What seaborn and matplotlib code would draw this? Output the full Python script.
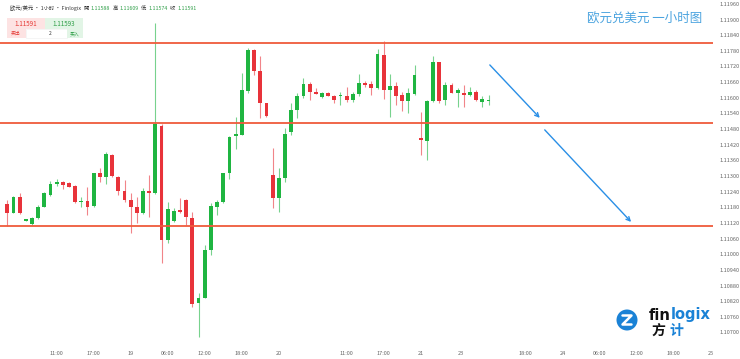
import numpy as np
import pandas as pd
import seaborn as sns
import matplotlib
matplotlib.use("Agg")
import matplotlib.pyplot as plt
import matplotlib.patches as mpatches

# ---------------- data ----------------
opens = [1.11193, 1.11160, 1.11221, 1.11128, 1.11116, 1.11138, 1.11183, 1.11227, 1.11268, 1.11277,
         1.11275, 1.11262, 1.11199, 1.11204, 1.11185, 1.11313, 1.11295, 1.11382, 1.11298, 1.11244,
         1.11208, 1.11180, 1.11157, 1.11244, 1.11234, 1.11492, 1.11055, 1.11128, 1.11170, 1.11208,
         1.11138, 1.10812, 1.10831, 1.11016, 1.11183, 1.11202, 1.11311, 1.11454, 1.11458, 1.11626,
         1.11784, 1.11703, 1.11579, 1.11304, 1.11215, 1.11292, 1.11468, 1.11554, 1.11607, 1.11653,
         1.11624, 1.11602, 1.11618, 1.11608, 1.11605, 1.11606, 1.11592, 1.11615, 1.11658, 1.11652,
         1.11639, 1.11764, 1.11628, 1.11646, 1.11610, 1.11589, 1.11615, 1.11445, 1.11436, 1.11589,
         1.11739, 1.11592, 1.11649, 1.11620, 1.11618, 1.11611, 1.11624, 1.11585, 1.11588]
highs = [1.11208, 1.11224, 1.11234, 1.11137, 1.11144, 1.11189, 1.11239, 1.11282, 1.11289, 1.11281,
         1.11277, 1.11266, 1.11221, 1.11259, 1.11312, 1.11330, 1.11394, 1.11385, 1.11300, 1.11285,
         1.11236, 1.11221, 1.11253, 1.11304, 1.11887, 1.11500, 1.11202, 1.11176, 1.11215, 1.11211,
         1.11163, 1.10850, 1.11036, 1.11196, 1.11208, 1.11311, 1.11454, 1.11528, 1.11694, 1.11791,
         1.11787, 1.11762, 1.11580, 1.11407, 1.11330, 1.11483, 1.11579, 1.11618, 1.11677, 1.11661,
         1.11639, 1.11621, 1.11624, 1.11611, 1.11621, 1.11641, 1.11624, 1.11690, 1.11665, 1.11665,
         1.11786, 1.11819, 1.11692, 1.11662, 1.11624, 1.11637, 1.11726, 1.11547, 1.11592, 1.11761,
         1.11739, 1.11662, 1.11658, 1.11637, 1.11649, 1.11643, 1.11628, 1.11605, 1.11609]
lows = [1.11108, 1.11158, 1.11155, 1.11127, 1.11112, 1.11135, 1.11181, 1.11224, 1.11262, 1.11250,
        1.11258, 1.11197, 1.11180, 1.11151, 1.11181, 1.11278, 1.11270, 1.11296, 1.11227, 1.11202,
        1.11080, 1.11119, 1.11155, 1.11144, 1.11231, 1.10965, 1.11044, 1.11125, 1.11157, 1.11112,
        1.10797, 1.10684, 1.10831, 1.10997, 1.11151, 1.11198, 1.11288, 1.11403, 1.11458, 1.11619,
        1.11688, 1.11522, 1.11527, 1.11176, 1.11163, 1.11278, 1.11458, 1.11524, 1.11598, 1.11592,
        1.11614, 1.11598, 1.11605, 1.11581, 1.11573, 1.11585, 1.11585, 1.11608, 1.11643, 1.11611,
        1.11633, 1.11595, 1.11526, 1.11573, 1.11551, 1.11541, 1.11611, 1.11381, 1.11362, 1.11585,
        1.11581, 1.11573, 1.11618, 1.11564, 1.11564, 1.11605, 1.11589, 1.11564, 1.11574]
closes = [1.11160, 1.11221, 1.11157, 1.11136, 1.11138, 1.11180, 1.11234, 1.11270, 1.11278, 1.11265,
          1.11259, 1.11199, 1.11204, 1.11183, 1.11311, 1.11295, 1.11385, 1.11300, 1.11244, 1.11208,
          1.11180, 1.11157, 1.11244, 1.11236, 1.11499, 1.11055, 1.11175, 1.11167, 1.11163, 1.11142,
          1.10809, 1.10831, 1.11016, 1.11185, 1.11202, 1.11311, 1.11451, 1.11460, 1.11628, 1.11784,
          1.11703, 1.11579, 1.11532, 1.11215, 1.11292, 1.11461, 1.11554, 1.11607, 1.11653, 1.11621,
          1.11616, 1.11618, 1.11608, 1.11592, 1.11609, 1.11592, 1.11615, 1.11656, 1.11649, 1.11639,
          1.11767, 1.11630, 1.11646, 1.11607, 1.11589, 1.11618, 1.11688, 1.11438, 1.11589, 1.11739,
          1.11589, 1.11649, 1.11620, 1.11628, 1.11611, 1.11624, 1.11592, 1.11594, 1.11591]

levels = [1.11809, 1.11503, 1.11110]

x_tick_pos = [8, 14, 20, 26, 32, 38, 44, 55, 61, 67, 73.5, 84, 90, 96, 102, 108, 114]
x_tick_labels = ["11:00", "17:00", "19", "06:00", "12:00", "18:00", "20", "11:00", "17:00",
                 "21", "23", "18:00", "24", "06:00", "12:00", "18:00", "25"]
y_ticks = [1.10700, 1.10760, 1.10820, 1.10880, 1.10940, 1.11000, 1.11060, 1.11120, 1.11180,
           1.11240, 1.11300, 1.11360, 1.11420, 1.11480, 1.11540, 1.11600, 1.11660, 1.11720,
           1.11780, 1.11840, 1.11900, 1.11960]

arrow_starts = [(78.2, 1.11726), (87.1, 1.11477)]
arrow_ends = [(86.3, 1.11523), (101.1, 1.11124)]

header_parts = [("欧元/美元 • 1小时 • Finlogix", "#333333"),
                ("開", "#333333"), ("1.11588", "#2e9e47"),
                ("高", "#333333"), ("1.11609", "#2e9e47"),
                ("低", "#333333"), ("1.11574", "#2e9e47"),
                ("收", "#333333"), ("1.11591", "#2e9e47")]
sell_price = "1.11591"
buy_price = "1.11593"
title = "欧元兑美元 一小时图"

# ---------------- style ----------------
sns.set_theme(style="white")
plt.rcParams['font.family'] = ['Noto Sans CJK SC', 'DejaVu Sans']

W, H = 740, 359
fig = plt.figure(figsize=(W / 100, H / 100), dpi=100)
ax = fig.add_axes([0, 14 / H, 713 / W, 345 / H])

df = pd.DataFrame({"o": opens, "h": highs, "l": lows, "c": closes})
df["i"] = np.arange(len(df))
GREEN = "#1fb541"
RED = "#e8333a"
df["col"] = np.where(df["c"] >= df["o"], GREEN, RED)
df["bottom"] = df[["o", "c"]].min(axis=1)
df["height"] = (df["c"] - df["o"]).abs().clip(lower=0.000025)

ax.vlines(df["i"], df["l"], df["h"], colors=df["col"], lw=0.8, alpha=0.6, zorder=2)
ax.bar(df["i"], df["height"], bottom=df["bottom"], width=0.62, color=df["col"],
       edgecolor="none", zorder=3)

for lv in levels:
    ax.axhline(lv, color="#ef5a3c", lw=1.3, zorder=4)

for s, e in zip(arrow_starts, arrow_ends):
    ax.annotate("", xy=e, xytext=s,
                arrowprops=dict(arrowstyle="->", color="#2a8fe6", lw=1.0,
                                mutation_scale=7, shrinkA=0, shrinkB=0))

ax.set_xlim(-1.18, 114.37)
ax.set_ylim(1.10652, 1.11975)
ax.yaxis.tick_right()
ax.set_yticks(y_ticks)
ax.set_yticklabels([f"{v:.5f}" for v in y_ticks], fontsize=4, color="#666666")
ax.set_xticks(x_tick_pos)
ax.set_xticklabels(x_tick_labels, fontsize=4, color="#666666")
ax.tick_params(axis="both", length=0)
ax.tick_params(axis="y", pad=5)
ax.tick_params(axis="x", pad=4)
for sp in ax.spines.values():
    sp.set_visible(False)
ax.set_facecolor("white")


def P(x, y):
    return (x / W, 1 - y / H)


renderer = fig.canvas.get_renderer()


def text_row(parts, x0, y, gap, **kw):
    """Place texts one after the other in pixel coordinates."""
    x = x0
    for txt, col, extra in parts:
        t = fig.text(*P(x, y), txt, color=col, ha="left", va="center", **kw, **extra)
        bb = t.get_window_extent(renderer=renderer)
        x = x + bb.width + gap


# header line
text_row([(t, c, {}) for t, c in header_parts], 10, 8, 2.2, fontsize=3.8)

# trade panel
panel = [(7, 18, 38, 11, "#fde3e3"), (45, 18, 38, 11, "#e2f5e6"),
         (7, 29, 19, 9, "#fde3e3"), (26, 29, 41, 9, "#ffffff"), (67, 29, 16, 9, "#e2f5e6")]
for x, y, w, h, c in panel:
    fig.patches.append(mpatches.Rectangle(P(x, y + h), w / W, h / H, transform=fig.transFigure,
                                          facecolor=c, edgecolor="#eeeeee" if c == "#ffffff" else "none",
                                          lw=0.4, zorder=5))
fig.text(*P(26, 23.5), sell_price, fontsize=4.5, color="#e53935", ha="center", va="center", zorder=6)
fig.text(*P(64, 23.5), buy_price, fontsize=4.5, color="#2e9e47", ha="center", va="center", zorder=6)
fig.text(*P(16, 33.5), "卖出", fontsize=3.5, color="#e53935", ha="center", va="center", zorder=6)
fig.text(*P(50, 33.5), "2", fontsize=3.5, color="#333333", ha="center", va="center", zorder=6)
fig.text(*P(75, 33.5), "买入", fontsize=3.5, color="#2e9e47", ha="center", va="center", zorder=6)

# title
fig.text(*P(645, 18), title, fontsize=9, color="#4aa3df", ha="center", va="center")

# logo
cx, cy = 627, 320
fig.patches.append(mpatches.Circle((cx / 100, (H - cy) / 100), 0.105,
                                   transform=fig.dpi_scale_trans, facecolor="#1a82d6",
                                   edgecolor="none", zorder=6))
zx = [cx - 4.5, cx + 4.5, cx - 4.5, cx + 4.5]
zy = [cy - 4.5, cy - 4.5, cy + 4.5, cy + 4.5]
fig.lines.append(plt.Line2D([x / W for x in zx], [1 - y / H for y in zy],
                            transform=fig.transFigure, color="white", lw=1.8,
                            solid_capstyle="round", zorder=7))
text_row([("fin", "#111111", {}), ("logix", "#1a82d6", {})], 649, 315, 0.3,
         fontsize=10.5, fontweight="bold", family=["DejaVu Sans"])
fig.text(*P(658, 331), "方", fontsize=10, fontweight="bold", color="#111111",
         ha="center", va="center")
fig.text(*P(676, 331), "计", fontsize=10, fontweight="bold", color="#1a82d6",
         ha="center", va="center")

fig.savefig("out.png", dpi=100, facecolor="white")
